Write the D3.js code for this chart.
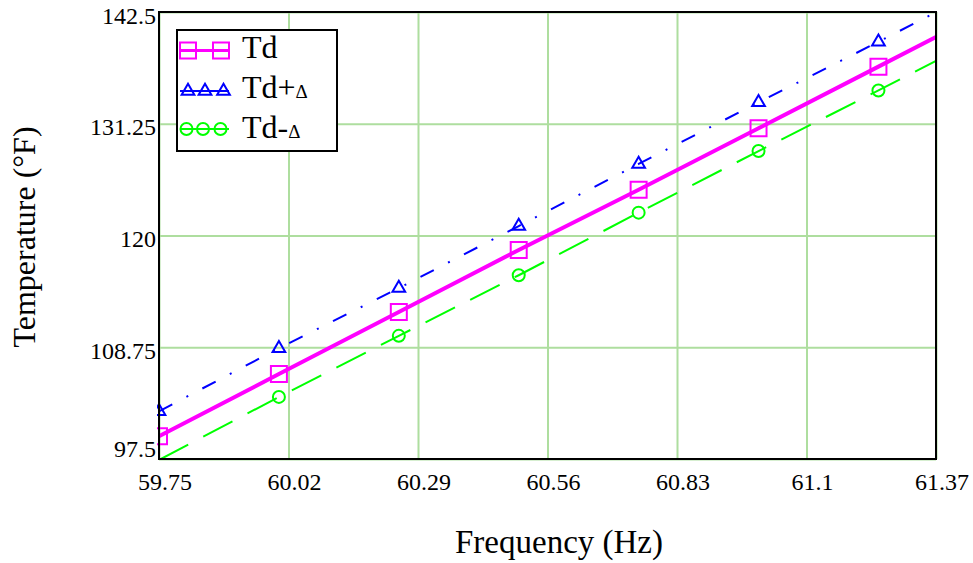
<!DOCTYPE html>
<html>
<head>
<meta charset="utf-8">
<script src="https://cdn.jsdelivr.net/npm/d3@7"></script>
<style>
  body { margin: 0; background: #fff; }
  text { font-family: "Liberation Serif", "Times New Roman", serif; fill: #000; }
</style>
</head>
<body>
<script>
var w = 973;
var h = 563;

// values (last point lies past the right edge, only the line reaches it)
var freq = [59.75, 60.0, 60.25, 60.5, 60.75, 61.0, 61.25, 61.5];
var td = [99.8, 106.05, 112.3, 118.55, 124.6, 130.8, 137.0, 143.2];
var tdPlus = [102.3, 108.65, 114.7, 120.95, 127.2, 133.4, 139.5, 145.7];
var tdMinus = [97.4, 103.75, 109.9, 116.0, 122.3, 128.5, 134.6, 140.8];

var xTicks = [59.75, 60.02, 60.29, 60.56, 60.83, 61.1, 61.37];
var yTicks = [97.5, 108.75, 120, 131.25, 142.5];

var margin = { left: 159, top: 12, right: 37, bottom: 104 };
var pw = w - margin.left - margin.right;
var ph = h - margin.top - margin.bottom;

var svg = d3.select("body")
  .append("svg")
  .attr("width", w)
  .attr("height", h);

var x = d3.scaleLinear().domain([59.75, 61.37]).range([0, pw]);
var y = d3.scaleLinear().domain([97.5, 142.5]).range([ph, 0]);

var g = svg.append("g")
  .attr("transform", "translate(" + margin.left + "," + margin.top + ")");

svg.append("defs").append("clipPath")
  .attr("id", "plotclip")
  .append("rect")
  .attr("x", 0).attr("y", 0)
  .attr("width", pw).attr("height", ph);

svg.select("defs").append("clipPath")
  .attr("id", "markclip")
  .append("rect")
  .attr("x", -2).attr("y", -2)
  .attr("width", pw + 4).attr("height", ph + 4);

// grid
var gridColor = "#aede9f";
g.append("g")
  .call(d3.axisBottom(x).tickValues(xTicks).tickSize(ph).tickFormat(""))
  .call(function (s) {
    s.select(".domain").remove();
    s.selectAll("line").attr("stroke", gridColor).attr("stroke-width", 2);
  });
g.append("g")
  .call(d3.axisLeft(y).tickValues(yTicks).tickSize(-pw).tickFormat(""))
  .call(function (s) {
    s.select(".domain").remove();
    s.selectAll("line").attr("stroke", gridColor).attr("stroke-width", 2);
  });

var series = [
  { name: "td", vals: td, color: "#ff00ff", width: 4, dash: null, mark: "square" },
  { name: "tdPlus", vals: tdPlus, color: "#0000ff", width: 2, dash: "15,16,2,16", mark: "triangle" },
  { name: "tdMinus", vals: tdMinus, color: "#00ff00", width: 2, dash: "33,17", mark: "circle" }
];

var line = d3.line()
  .x(function (d) { return x(d[0]); })
  .y(function (d) { return y(d[1]); });

var lines = g.append("g").attr("clip-path", "url(#plotclip)");
series.forEach(function (s) {
  var pts = freq.map(function (f, i) { return [f, s.vals[i]]; });
  lines.append("path")
    .datum(pts)
    .attr("d", line)
    .attr("fill", "none")
    .attr("stroke", s.color)
    .attr("stroke-width", s.width)
    .attr("stroke-dasharray", s.dash);
});

var symSquare = d3.symbol().type(d3.symbolSquare).size(256);
var symTri = d3.symbol().type(d3.symbolTriangle).size(70);

function drawMark(sel, type, color) {
  if (type == "circle") {
    sel.append("circle").attr("r", 6);
  } else if (type == "square") {
    sel.append("path").attr("d", symSquare);
  } else {
    sel.append("path").attr("d", symTri);
  }
  sel.selectAll("circle, path")
    .attr("fill", "none")
    .attr("stroke", color)
    .attr("stroke-width", 2);
}

// markers only where the point is inside the axis ranges
var marks = g.append("g").attr("clip-path", "url(#markclip)");
series.forEach(function (s) {
  freq.forEach(function (f, i) {
    var v = s.vals[i];
    if (f < 59.75 || f > 61.37 || v < 97.5 || v > 142.5) return;
    var m = marks.append("g")
      .attr("transform", "translate(" + x(f) + "," + y(v) + ")");
    drawMark(m, s.mark, s.color);
  });
});

// frame
g.append("rect")
  .attr("width", pw).attr("height", ph)
  .attr("fill", "none")
  .attr("stroke", "#000")
  .attr("stroke-width", 2);

// tick labels
g.selectAll(".xl")
  .data(xTicks)
  .enter()
  .append("text")
  .attr("x", function (d) { return x(d) + 6; })
  .attr("y", ph + 31)
  .attr("text-anchor", "middle")
  .attr("font-size", 24)
  .text(function (d) { return d; });

g.selectAll(".yl")
  .data(yTicks)
  .enter()
  .append("text")
  .attr("x", -3)
  .attr("y", function (d, i) { return i == 0 ? y(d) - 2 : y(d) + 11.5; })
  .attr("text-anchor", "end")
  .attr("font-size", 24)
  .text(function (d) { return d; });

// axis titles
svg.append("text")
  .attr("x", 559)
  .attr("y", 553)
  .attr("text-anchor", "middle")
  .attr("font-size", 33)
  .text("Frequency (Hz)");

svg.append("text")
  .attr("transform", "translate(35,237) rotate(-90)")
  .attr("text-anchor", "middle")
  .attr("font-size", 32)
  .text("Temperature (°F)");

// legend
var leg = svg.append("g");
leg.append("rect")
  .attr("x", 177).attr("y", 30)
  .attr("width", 160).attr("height", 121)
  .attr("fill", "#fff")
  .attr("stroke", "#000")
  .attr("stroke-width", 2);

var legRows = [
  { s: series[0], y: 50.5, base: 58.3, xs: [188, 221], label: "Td", sub: "" },
  { s: series[1], y: 91, base: 98.3, xs: [188, 205, 223.5], label: "Td+", sub: "Δ" },
  { s: series[2], y: 129, base: 138.3, xs: [186.5, 203, 220.5], label: "Td-", sub: "Δ" }
];

legRows.forEach(function (r) {
  leg.append("line")
    .attr("x1", 180).attr("x2", 229)
    .attr("y1", r.y).attr("y2", r.y)
    .attr("stroke", r.s.color)
    .attr("stroke-width", r.s.name == "td" ? 3 : 2);
  r.xs.forEach(function (mx) {
    var m = leg.append("g").attr("transform", "translate(" + mx + "," + r.y + ")");
    drawMark(m, r.s.mark, r.s.color);
  });
  var t = leg.append("text")
    .attr("x", 242)
    .attr("y", r.base)
    .attr("font-size", 32)
    .text(r.label);
  if (r.sub) {
    t.append("tspan").attr("font-size", 19).text(r.sub);
  }
});
</script>
</body>
</html>
